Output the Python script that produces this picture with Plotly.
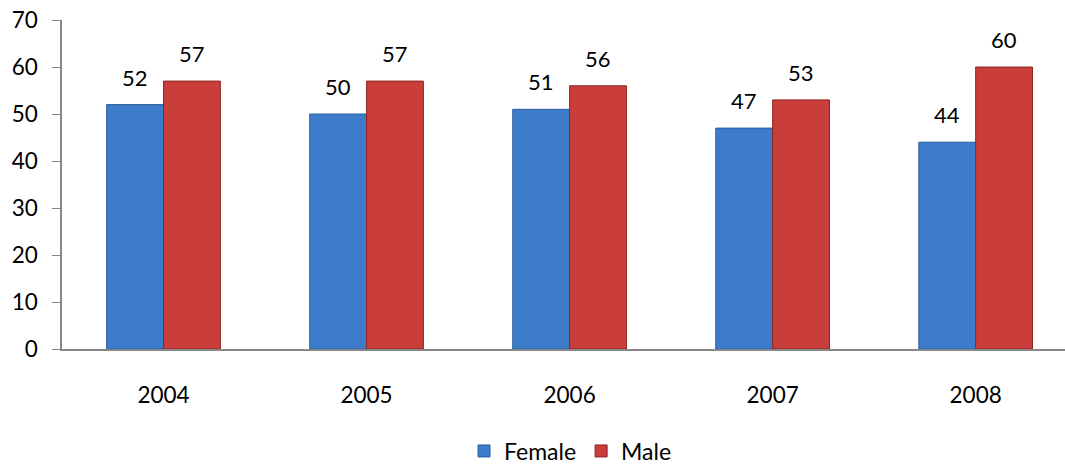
import plotly.graph_objects as go

years = ["2004", "2005", "2006", "2007", "2008"]
female = [52, 50, 51, 47, 44]
male = [57, 57, 56, 53, 60]

FONT = "Lato, Open Sans, sans-serif"
W, H = 1065, 468
ML, MR, MT, MB = 62, 0, 20, 119
XRANGE = [-0.5, 4.44]
BARGAP = 0.44

fig = go.Figure()
fig.add_trace(go.Bar(
    x=years, y=female, name="Female",
    marker=dict(color="#3D7CCB", line=dict(color="#2A5E9E", width=1)),
))
fig.add_trace(go.Bar(
    x=years, y=male, name="Male",
    marker=dict(color="#C93D3A", line=dict(color="#8E2624", width=1)),
))

# value labels above bars, shifted to each bar's centre
px_per_cat = (W - ML - MR) / (XRANGE[1] - XRANGE[0])
half_bar = px_per_cat * (1 - BARGAP) / 4
for series, sign in ((female, -1), (male, 1)):
    for i, v in enumerate(series):
        fig.add_annotation(x=i, y=v, text=str(v), showarrow=False,
                           xshift=sign * half_bar, yshift=12, yanchor="bottom",
                           font=dict(size=22, color="#000000", family=FONT))

fig.update_layout(
    width=W, height=H,
    margin=dict(l=ML, r=MR, t=MT, b=MB, autoexpand=False),
    paper_bgcolor="white", plot_bgcolor="white",
    barmode="group", bargap=BARGAP, bargroupgap=0,
    font=dict(family=FONT, size=22, color="#000000"),
    showlegend=True,
    legend=dict(orientation="h", x=0.507, xanchor="center", y=-0.31, yanchor="middle",
                font=dict(size=23), itemwidth=30, traceorder="normal"),
)
fig.update_xaxes(
    type="category", range=XRANGE, automargin=False,
    showline=True, linecolor="#888888", linewidth=1.5,
    ticks="", showgrid=False, tickfont=dict(size=22.5),
    ticklabelstandoff=25,
)
fig.update_yaxes(
    range=[0, 70], dtick=10, tick0=0, automargin=False,
    showline=True, linecolor="#888888", linewidth=1.5,
    ticks="outside", ticklen=8, tickcolor="#888888",
    showgrid=False, zeroline=False, tickfont=dict(size=22.5),
    ticklabelstandoff=10,
)

fig.write_html("out.html", config={"displayModeBar": False},
               post_script="document.body.style.margin='0';document.body.style.padding='0';")
